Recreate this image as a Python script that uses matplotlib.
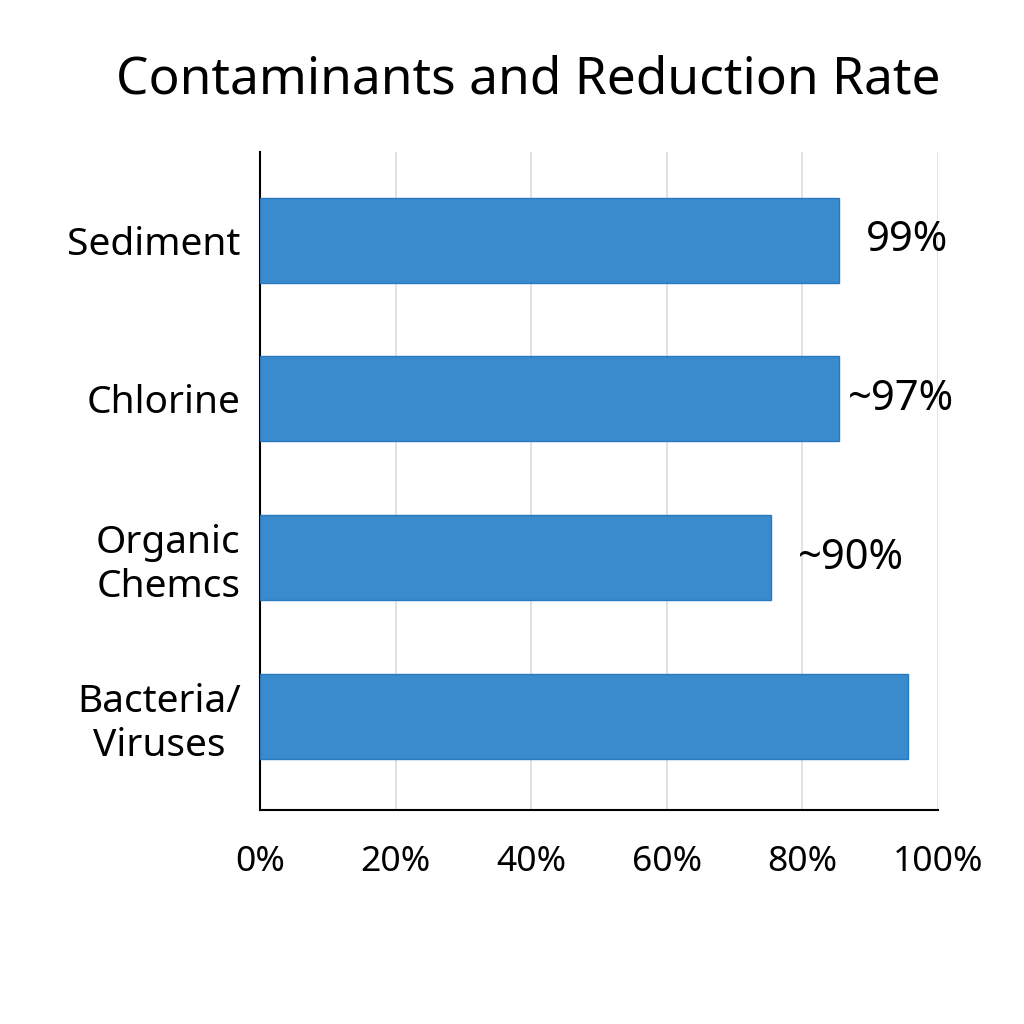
import matplotlib
matplotlib.use("Agg")
import matplotlib.pyplot as plt

categories = ["Sediment", "Chlorine", "Organic\nChemcs", "Bacteria/\nViruses"]
values = [85.4, 85.4, 75.4, 95.6]
value_labels = ["99%", "~97%", "~90%", ""]
xticks = [0, 20, 40, 60, 80, 100]
xtick_labels = ["0%", "20%", "40%", "60%", "80%", "100%"]
title = "Contaminants and Reduction Rate"

label_offsets_px = [27, 9, 27, 0]

plt.rcParams['font.family'] = ['Noto Sans', 'DejaVu Sans']

fig = plt.figure(figsize=(10.24, 10.24), dpi=100)
ax = fig.add_axes([0.254, 0.209, 0.662, 0.6426])

pos = list(range(len(categories)))
ax.barh(pos, values, height=0.536, color="#3a8bcd", edgecolor="#2a78bd", linewidth=1, zorder=3)
ax.set_ylim(3.59, -0.555)
ax.set_xlim(0, 100)

ax.set_xticks(xticks)
ax.set_xticklabels(xtick_labels, fontsize=25.5)
ax.set_yticks(pos)
ax.set_yticklabels(categories, fontsize=28, linespacing=1.2)
for lab in ax.get_yticklabels():
    lab.set_multialignment('center')
ax.tick_params(axis='x', length=0, pad=25)
ax.tick_params(axis='y', length=0, pad=14)

ax.grid(axis='x', color="#dddddd", linewidth=1.2, zorder=0)
ax.set_axisbelow(True)
for s in ['top', 'right']:
    ax.spines[s].set_visible(False)
ax.spines['left'].set_linewidth(1.5)
ax.spines['bottom'].set_linewidth(1.5)

for p, v, t, off in zip(pos, values, value_labels, label_offsets_px):
    if t:
        ax.annotate(t, xy=(v, p), xytext=(off * 0.72, 0), textcoords='offset points',
                    ha='left', va='center', fontsize=30)

fig.text(0.516, 0.922, title, ha='center', va='center', fontsize=37, fontweight='medium')

fig.savefig("out.png", dpi=100)
